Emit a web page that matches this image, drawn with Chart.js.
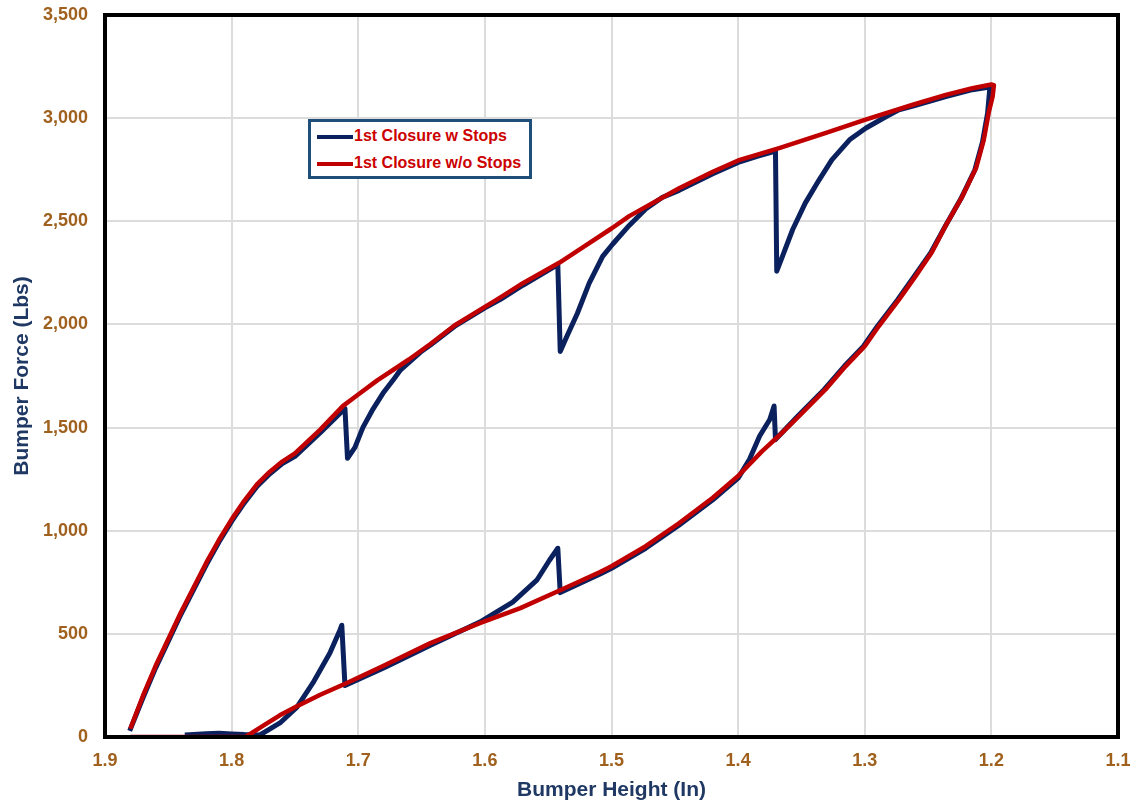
<!DOCTYPE html>
<html>
<head>
<meta charset="utf-8">
<title>Bumper Force vs Height</title>
<script src="https://cdn.jsdelivr.net/npm/chart.js@4.4.0/dist/chart.umd.min.js"></script>
<style>
    body { margin: 0; background: #fff; }
    #wrap { position: relative; width: 1137px; height: 808px; }
    #legendBox {
        position: absolute; left: 308px; top: 119px; width: 218px; height: 54px;
        border: 3px solid #1F4E79; background: #fff;
        font-family: "Liberation Sans", Arial, sans-serif; font-weight: bold; font-size: 16px; color: #CC0000;
    }
    .legRow { position: absolute; left: 6px; height: 18px; line-height: 18px; white-space: nowrap; }
    .legLine { display: inline-block; width: 36px; height: 4px; vertical-align: middle; margin-right: 1px; }
</style>
</head>
<body>
<div id="wrap">
    <canvas id="myChart" width="1137" height="808"></canvas>
    <div id="legendBox">
        <div class="legRow" style="top:5px"><span class="legLine" style="background:#0A215E"></span>1st Closure w Stops</div>
        <div class="legRow" style="top:32px"><span class="legLine" style="background:#C00000"></span>1st Closure w/o Stops</div>
    </div>
</div>
<script>
/*------------------------------------------------------Data-----------------------------------------------------------------------------*/
// x = bumper height (in), y = bumper force (lbs)
let withStopsX = [
    1.8805, 1.87, 1.86, 1.85, 1.84, 1.83, 1.82, 1.81, 1.80, 1.79, 1.78, 1.77, 1.76, 1.75, 1.73, 1.7105,
    1.7085, 1.7026, 1.6963, 1.689, 1.6805, 1.6726, 1.667, 1.651, 1.643, 1.624, 1.6, 1.588, 1.57, 1.5424,
    1.5405, 1.5353, 1.527, 1.5176, 1.507, 1.499, 1.486, 1.473, 1.46, 1.4466, 1.42, 1.4, 1.385, 1.3705,
    1.3695, 1.365, 1.357, 1.347, 1.336, 1.326, 1.312, 1.299, 1.283, 1.273, 1.262, 1.236, 1.215, 1.2, 1.2013,
    1.203, 1.207, 1.213, 1.224, 1.237, 1.248, 1.261, 1.274, 1.29, 1.301, 1.316, 1.332, 1.353, 1.3705,
    1.3716, 1.375, 1.383, 1.391, 1.4, 1.42, 1.447, 1.473, 1.5, 1.509, 1.5405,
    1.5424, 1.549, 1.559, 1.578, 1.604, 1.643, 1.68, 1.7105,
    1.713, 1.7145, 1.7224, 1.7358, 1.7484, 1.7618, 1.7776, 1.79, 1.80, 1.81, 1.82, 1.83, 1.837
]
let withStopsY = [
    30, 190, 335, 465, 595, 715, 835, 945, 1045, 1135, 1215, 1275, 1325, 1360, 1475, 1593,
    1351, 1404, 1501, 1583, 1666, 1729, 1777, 1865, 1900, 1990, 2080, 2120, 2190, 2290,
    1869, 1941, 2053, 2200, 2330, 2390, 2480, 2560, 2615, 2650, 2730, 2785, 2815, 2840,
    2258, 2330, 2459, 2588, 2701, 2798, 2895, 2952, 3008, 3040, 3058, 3105, 3138, 3152, 3140,
    3024, 2885, 2750, 2610, 2470, 2346, 2233, 2120, 1991, 1894, 1798, 1685, 1555, 1442,
    1604, 1539, 1459, 1346, 1255, 1150, 1025, 915, 818, 790, 700,
    915, 857, 760, 654, 557, 445, 335, 250,
    542, 518, 407, 262, 145, 68, 10, 12, 15, 18, 16, 12, 10
]

let noStopsX = [
    1.88, 1.87, 1.86, 1.85, 1.84, 1.83, 1.82, 1.81, 1.80, 1.79, 1.78, 1.77, 1.76, 1.75, 1.73, 1.712,
    1.70, 1.685, 1.66, 1.643, 1.624, 1.6, 1.588, 1.57, 1.541, 1.52, 1.5, 1.486, 1.4466, 1.42, 1.4,
    1.3676, 1.33, 1.3, 1.262, 1.236, 1.215, 1.2, 1.198,
    1.199, 1.202, 1.206, 1.212, 1.223, 1.236, 1.247, 1.26, 1.273, 1.289, 1.3, 1.315, 1.331, 1.352,
    1.368, 1.381, 1.4, 1.42, 1.447, 1.473, 1.5, 1.509, 1.541, 1.572, 1.604, 1.643, 1.68, 1.709,
    1.73, 1.748, 1.762, 1.775, 1.789, 1.83, 1.88
]
let noStopsY = [
    40, 200, 345, 475, 605, 725, 845, 955, 1055, 1145, 1225, 1285, 1335, 1375, 1490, 1605,
    1660, 1729, 1830, 1905, 1995, 2085, 2130, 2200, 2300, 2385, 2465, 2525, 2660, 2740, 2795,
    2855, 2930, 2992, 3065, 3113, 3145, 3163, 3160,
    3105, 3030, 2895, 2760, 2620, 2480, 2350, 2233, 2120, 1991, 1894, 1798, 1685, 1555,
    1459, 1386, 1265, 1160, 1035, 925, 828, 800, 710, 625, 552, 455, 345, 262,
    205, 150, 105, 55, 0, 0, 0
]

let seriesNames = ["1st Closure w Stops", "1st Closure w/o Stops"]
let xTickMin = 1.1, xTickMax = 1.9, xTickStep = 0.1
let yTickMin = 0, yTickMax = 3500, yTickStep = 500

/*------------------------------------------------------Build points-----------------------------------------------------------------*/
function toPoints(xs, ys) {
    let arr = []
    for (let i = 0; i < xs.length; i++) {
        arr.push({ x: xs[i], y: ys[i] })
    }
    return arr
}

// thick frame round the plot area
const plotFrame = {
    id: 'plotFrame',
    afterDraw(chart) {
        let a = chart.chartArea
        let c = chart.ctx
        c.save()
        c.strokeStyle = '#000'
        c.lineWidth = 4
        c.strokeRect(a.left, a.top, a.right - a.left, a.bottom - a.top)
        c.restore()
    }
}

let tickColor = '#A0601E'
let titleColor = '#1F3864'
let fontName = '"Liberation Sans", Arial, sans-serif'

/*----------------------------------------------------Draw Chart-----------------------------------------------------------------------*/
var ctx = document.getElementById('myChart').getContext('2d');
var myChart = new Chart(ctx, {
    type: 'scatter',
    data: {
        datasets: [{
            label: seriesNames[0],
            data: toPoints(withStopsX, withStopsY),
            showLine: true,
            borderColor: '#0A215E',
            backgroundColor: '#0A215E',
            borderWidth: 5,
            pointRadius: 0,
            borderJoinStyle: 'round',
            order: 1
        }, {
            label: seriesNames[1],
            data: toPoints(noStopsX, noStopsY),
            showLine: true,
            borderColor: '#C00000',
            backgroundColor: '#C00000',
            borderWidth: 4.5,
            pointRadius: 0,
            borderJoinStyle: 'round',
            order: 0
        }]
    },
    options: {
        responsive: false,
        animation: false,
        layout: { padding: { top: 15, right: 19, left: 0, bottom: 0 } },
        scales: {
            x: {
                type: 'linear',
                reverse: true,
                min: xTickMin,
                max: xTickMax,
                afterFit: function (scale) {
                    scale.height = 71
                    scale.paddingLeft = 0
                    scale.paddingRight = 0
                },
                border: { display: false },
                grid: { color: '#DCDCDC', lineWidth: 2, drawTicks: false },
                ticks: {
                    stepSize: xTickStep,
                    padding: 13,
                    color: tickColor,
                    font: { family: fontName, size: 18, weight: 'bold' },
                    callback: function (v) { return Number(v).toFixed(1) }
                },
                title: {
                    display: true,
                    text: 'Bumper Height (In)',
                    color: titleColor,
                    font: { family: fontName, size: 21, weight: 'bold' },
                    padding: { top: 0, bottom: 5 }
                }
            },
            y: {
                min: yTickMin,
                max: yTickMax,
                afterFit: function (scale) {
                    scale.width = 105
                    scale.paddingTop = 0
                    scale.paddingBottom = 0
                },
                border: { display: false },
                grid: { color: '#DCDCDC', lineWidth: 2, drawTicks: false },
                ticks: {
                    stepSize: yTickStep,
                    padding: 17,
                    color: tickColor,
                    font: { family: fontName, size: 18, weight: 'bold' }
                },
                title: {
                    display: true,
                    text: 'Bumper Force (Lbs)',
                    color: titleColor,
                    font: { family: fontName, size: 21, weight: 'bold' },
                    padding: { top: 10, bottom: 0 }
                }
            }
        },
        plugins: {
            legend: { display: false },
            tooltip: { enabled: false }
        }
    },
    plugins: [plotFrame]
});
</script>
</body>
</html>
